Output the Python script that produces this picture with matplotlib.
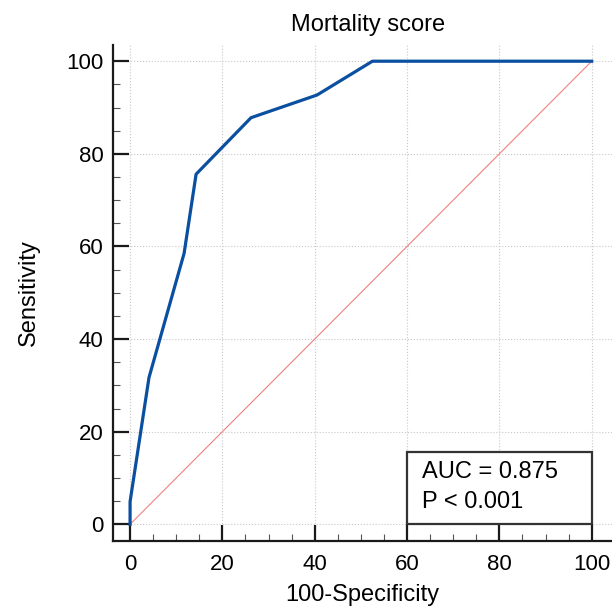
import matplotlib
matplotlib.use('Agg')
import matplotlib.pyplot as plt
from matplotlib.patches import Rectangle

plt.rcParams['font.family'] = ['Liberation Sans', 'DejaVu Sans']

# ROC points (100-Specificity, Sensitivity)
fpr = [0, 0, 4.1, 11.7, 14.3, 26.2, 40.5, 52.5, 100]
tpr = [0, 4.9, 31.7, 58.5, 75.6, 87.8, 92.7, 100, 100]
auc_lines = ["AUC = 0.875", "P < 0.001"]
title = "Mortality score"

fig = plt.figure(figsize=(6.12, 6.10), dpi=100)
ax = fig.add_axes([113 / 612, 1 - 540.5 / 610, 1 - 113 / 612, (540.5 - 45) / 610])

ax.plot([0, 100], [0, 100], color='#f08080', linewidth=0.8, zorder=2)
ax.plot(fpr, tpr, color='#0a4fa0', linewidth=2.3, zorder=3)

ax.set_xlim(-3.7, 104.4)
ax.set_ylim(-3.5, 103.5)
ax.set_xticks(range(0, 101, 20))
ax.set_yticks(range(0, 101, 20))
ax.set_xticks([v for v in range(0, 101, 5) if v % 20], minor=True)
ax.set_yticks([v for v in range(0, 101, 5) if v % 20], minor=True)

ax.grid(True, which='major', color='#c8c8c8', linestyle=':', linewidth=0.8, zorder=0)

for side in ['top', 'right']:
    ax.spines[side].set_visible(False)
for side in ['left', 'bottom']:
    ax.spines[side].set_linewidth(1.6)
    ax.spines[side].set_color('#1a1a1a')

ax.tick_params(which='major', direction='in', length=11.5, width=1.6, color='#1a1a1a',
               labelsize=16)
ax.tick_params(which='minor', direction='in', length=5, width=0.8, color='#555555')
ax.tick_params(axis='x', which='major', pad=10)
ax.tick_params(axis='y', which='major', pad=7)

ax.set_title(title, fontsize=17, pad=10, x=0.511)
ax.set_xlabel('100-Specificity', fontsize=17, labelpad=6)
ax.set_ylabel('Sensitivity', fontsize=17, labelpad=19)

# AUC annotation box
ax.add_patch(Rectangle((60, 0), 40, 15.6, facecolor='white', edgecolor='#333333',
                       linewidth=1.6, zorder=5))
ax.text(63.3, 10.0, auc_lines[0], fontsize=17, ha='left', va='baseline', zorder=6)
ax.text(63.3, 3.5, auc_lines[1], fontsize=17, ha='left', va='baseline', zorder=6)

fig.savefig('out.png', dpi=100)
